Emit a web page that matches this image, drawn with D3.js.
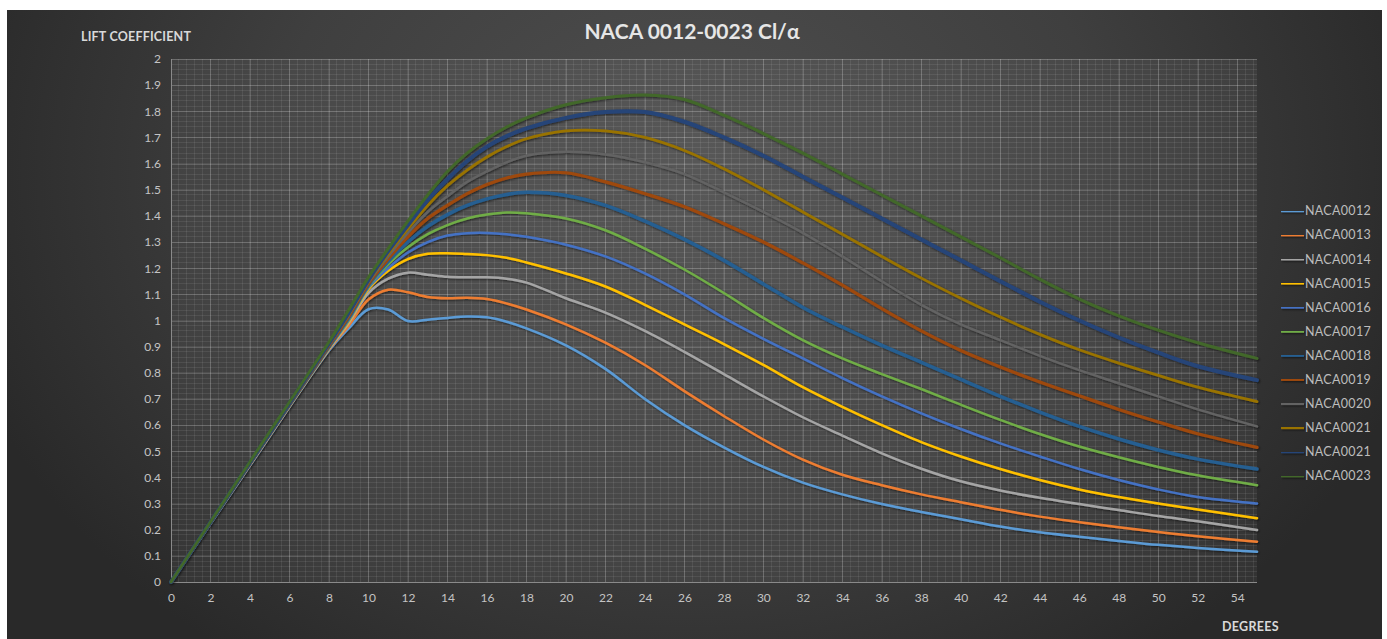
<!DOCTYPE html>
<html>
<head>
<meta charset="utf-8">
<script src="https://cdn.jsdelivr.net/npm/d3@7"></script>
<style>
html,body{margin:0;padding:0;background:#ffffff;overflow:hidden}
svg{display:block}
</style>
</head>
<body>
<svg id="chart" width="1387" height="639"></svg>
<script>
// ---- data ----
const degrees = [0,4,8,9,10,11,12,13,14,15,16,17,18,20,22,24,26,28,30,32,34,36,38,40,42,44,46,48,50,52,55];
const naca0012 = [0,.445,.885,.97,1.043,1.042,.998,1.003,1.01,1.015,1.012,.995,.97,.905,.815,.70,.60,.515,.44,.38,.335,.298,.268,.24,.212,.19,.173,.157,.142,.13,.116];
const naca0013 = [0,.447,.888,.98,1.08,1.118,1.108,1.09,1.085,1.087,1.082,1.065,1.042,.985,.915,.83,.73,.635,.545,.468,.41,.37,.335,.305,.276,.25,.229,.209,.191,.175,.154];
const naca0014 = [0,.448,.89,.99,1.105,1.16,1.183,1.175,1.167,1.165,1.165,1.16,1.145,1.085,1.03,.96,.88,.795,.71,.63,.56,.492,.433,.385,.35,.322,.298,.275,.252,.232,.199];
const naca0015 = [0,.45,.893,.995,1.12,1.19,1.235,1.255,1.257,1.254,1.25,1.24,1.222,1.18,1.13,1.06,.985,.91,.83,.745,.67,.60,.535,.48,.432,.39,.354,.325,.30,.277,.244];
const naca0016 = [0,.451,.895,1.0,1.125,1.2,1.26,1.30,1.325,1.334,1.335,1.33,1.32,1.29,1.245,1.18,1.10,1.01,.93,.855,.78,.71,.645,.585,.53,.48,.432,.39,.354,.325,.30];
const naca0017 = [0,.452,.898,1.005,1.13,1.215,1.28,1.33,1.365,1.39,1.405,1.413,1.41,1.39,1.345,1.275,1.195,1.105,1.01,.925,.855,.795,.738,.678,.62,.566,.518,.477,.44,.408,.37];
const naca0018 = [0,.453,.9,1.01,1.135,1.225,1.30,1.36,1.405,1.44,1.465,1.482,1.49,1.478,1.44,1.38,1.31,1.23,1.14,1.05,.975,.905,.84,.775,.71,.65,.595,.547,.505,.47,.432];
const naca0019 = [0,.454,.903,1.015,1.14,1.235,1.32,1.39,1.44,1.485,1.52,1.545,1.56,1.565,1.53,1.485,1.435,1.37,1.30,1.22,1.135,1.045,.96,.885,.822,.765,.712,.66,.612,.567,.515];
const naca0020 = [0,.455,.906,1.02,1.145,1.245,1.335,1.415,1.475,1.53,1.57,1.605,1.63,1.645,1.635,1.605,1.56,1.49,1.415,1.335,1.245,1.15,1.06,.985,.925,.865,.81,.76,.71,.66,.595];
const naca0021 = [0,.456,.909,1.025,1.15,1.255,1.35,1.44,1.515,1.575,1.625,1.665,1.695,1.725,1.725,1.70,1.65,1.58,1.50,1.415,1.33,1.245,1.162,1.085,1.013,.947,.888,.837,.79,.745,.69];
const naca0021b = [0,.457,.912,1.03,1.155,1.265,1.365,1.46,1.54,1.61,1.665,1.705,1.735,1.775,1.797,1.797,1.76,1.70,1.63,1.55,1.47,1.39,1.31,1.23,1.15,1.072,1.0,.935,.877,.825,.772];
const naca0023 = [0,.46,.918,1.04,1.165,1.275,1.38,1.48,1.57,1.64,1.695,1.74,1.775,1.825,1.852,1.862,1.845,1.785,1.715,1.64,1.56,1.48,1.40,1.32,1.24,1.158,1.082,1.018,.963,.915,.855];

const seriesNames = ["NACA0012","NACA0013","NACA0014","NACA0015","NACA0016","NACA0017","NACA0018","NACA0019","NACA0020","NACA0021","NACA0021","NACA0023"];
const seriesValues = [naca0012,naca0013,naca0014,naca0015,naca0016,naca0017,naca0018,naca0019,naca0020,naca0021,naca0021b,naca0023];
const seriesColors = ["#5B9BD5","#ED7D31","#A5A5A5","#FFC000","#4472C4","#70AD47","#255E91","#9E480E","#636363","#997300","#264478","#43682B"];

const xTickValues = d3.range(0, 55, 2);
const yTickValues = d3.range(0, 21).map(i => i / 10);
const titleText = "NACA 0012-0023 Cl/\u03B1";
const yAxisTitle = "LIFT COEFFICIENT";
const xAxisTitle = "DEGREES";

// ---- layout ----
const frame = {x: 7, y: 10, w: 1375, h: 629};
const plot = {left: 171, right: 1257, top: 59, bottom: 582};
const FONT = "Lato, 'Open Sans', 'DejaVu Sans', sans-serif";

const svg = d3.select("#chart");
const defs = svg.append("defs");

const grad = defs.append("radialGradient").attr("id", "bg")
  .attr("gradientUnits", "userSpaceOnUse")
  .attr("cx", 690).attr("cy", 170).attr("r", 760)
  .attr("gradientTransform", "translate(690,170) scale(1,0.8) translate(-690,-170)");
grad.append("stop").attr("offset", "0%").attr("stop-color", "#4f4f4f");
grad.append("stop").attr("offset", "55%").attr("stop-color", "#3f3f3f");
grad.append("stop").attr("offset", "100%").attr("stop-color", "#292929");

const glow = defs.append("filter").attr("id", "glow")
  .attr("filterUnits", "userSpaceOnUse")
  .attr("x", 0).attr("y", 0).attr("width", 1387).attr("height", 639);
glow.append("feGaussianBlur").attr("in", "SourceAlpha").attr("stdDeviation", 1.3).attr("result", "b");
glow.append("feOffset").attr("in", "b").attr("dx", 0.6).attr("dy", 1.2).attr("result", "o");
glow.append("feComponentTransfer").attr("in", "o").attr("result", "s")
  .append("feFuncA").attr("type", "linear").attr("slope", 0.6);
const gm = glow.append("feMerge");
gm.append("feMergeNode").attr("in", "s");
gm.append("feMergeNode").attr("in", "SourceGraphic");

svg.append("rect").attr("x", frame.x).attr("y", frame.y).attr("width", frame.w).attr("height", frame.h)
  .attr("fill", "url(#bg)");

const x = d3.scaleLinear().domain([0, 55]).range([plot.left, plot.right]);
const y = d3.scaleLinear().domain([0, 2]).range([plot.bottom, plot.top]);

// plot area tint
svg.append("rect").attr("x", plot.left).attr("y", plot.top)
  .attr("width", plot.right - plot.left).attr("height", plot.bottom - plot.top)
  .attr("fill", "rgba(255,255,255,0.05)");

// minor gridlines
const minorX = d3.range(0, 138).map(i => i * 0.4).filter(v => v <= 55);
const minorY = d3.range(0, 101).map(i => i * 0.02);
const grid = svg.append("g");
grid.selectAll("line.mx").data(minorX).join("line")
  .attr("x1", d => x(d)).attr("x2", d => x(d))
  .attr("y1", plot.top).attr("y2", plot.bottom)
  .attr("stroke", "rgba(255,255,255,0.08)").attr("stroke-width", 1)
  .attr("shape-rendering", "crispEdges");
grid.selectAll("line.my").data(minorY).join("line")
  .attr("y1", d => y(d)).attr("y2", d => y(d))
  .attr("x1", plot.left).attr("x2", plot.right)
  .attr("stroke", "rgba(255,255,255,0.08)").attr("stroke-width", 1)
  .attr("shape-rendering", "crispEdges");

// major gridlines via axes
const gx = svg.append("g").attr("transform", `translate(0,${plot.bottom})`)
  .call(d3.axisBottom(x).tickValues(xTickValues).tickSize(-(plot.bottom - plot.top)).tickPadding(11).tickFormat(d3.format("d")));
const gy = svg.append("g").attr("transform", `translate(${plot.left},0)`)
  .call(d3.axisLeft(y).tickValues(yTickValues).tickSize(-(plot.right - plot.left)).tickPadding(10).tickFormat(d => d3.format("~g")(+d.toFixed(1))));
[gx, gy].forEach(g => {
  g.select(".domain").remove();
  g.selectAll(".tick line").attr("stroke", "rgba(255,255,255,0.17)").attr("shape-rendering", "crispEdges");
  g.selectAll(".tick text").attr("fill", "#c4c4c4").attr("font-family", FONT).attr("font-size", 12);
});
// axis lines
svg.append("line").attr("x1", plot.left).attr("x2", plot.right).attr("y1", plot.bottom).attr("y2", plot.bottom)
  .attr("stroke", "#8a8a8a").attr("shape-rendering", "crispEdges");
svg.append("line").attr("x1", plot.left).attr("x2", plot.left).attr("y1", plot.top).attr("y2", plot.bottom)
  .attr("stroke", "#8a8a8a").attr("shape-rendering", "crispEdges");

// series
const line = d3.line().x(d => x(d[0])).y(d => y(d[1])).curve(d3.curveCatmullRom.alpha(0.5));
const lines = svg.append("g").attr("filter", "url(#glow)");
const widths = [2.5,2.5,2.5,2.5,2.5,2.5,3.5,3.2,2.5,2.8,4,3];
seriesValues.forEach((vals, i) => {
  const pts = degrees.map((dg, j) => [dg, vals[j]]);
  lines.append("path").datum(pts).attr("d", line)
    .attr("fill", "none").attr("stroke", seriesColors[i])
    .attr("stroke-width", widths[i]).attr("stroke-linejoin", "round").attr("stroke-linecap", "round");
});

// legend
const legend = svg.append("g").attr("transform", "translate(1281,211)");
seriesNames.forEach((name, i) => {
  const g = legend.append("g").attr("transform", `translate(0,${i * 24.1})`);
  g.append("line").attr("x1", 0).attr("x2", 23).attr("y1", 0).attr("y2", 0)
    .attr("stroke", seriesColors[i]).attr("stroke-width", 2.5).attr("filter", "url(#glow)");
  g.append("text").attr("x", 24).attr("y", 0).attr("dy", "0.35em")
    .attr("fill", "#bdbdbd").attr("font-family", FONT).attr("font-size", 12.5)
    .attr("letter-spacing", 0.3).text(name);
});

// titles
svg.append("text").attr("x", 692).attr("y", 39).attr("text-anchor", "middle")
  .attr("fill", "#e6e6e6").attr("font-family", FONT).attr("font-weight", "bold").attr("font-size", 21)
  .text(titleText);
svg.append("text").attr("x", 81).attr("y", 41)
  .attr("fill", "#d9d9d9").attr("font-family", FONT).attr("font-weight", "bold").attr("font-size", 12.5)
  .attr("letter-spacing", 0.2).text(yAxisTitle);
svg.append("text").attr("x", 1222).attr("y", 631)
  .attr("fill", "#d9d9d9").attr("font-family", FONT).attr("font-weight", "bold").attr("font-size", 12.5)
  .attr("letter-spacing", 0.3).text(xAxisTitle);
</script>
</body>
</html>
